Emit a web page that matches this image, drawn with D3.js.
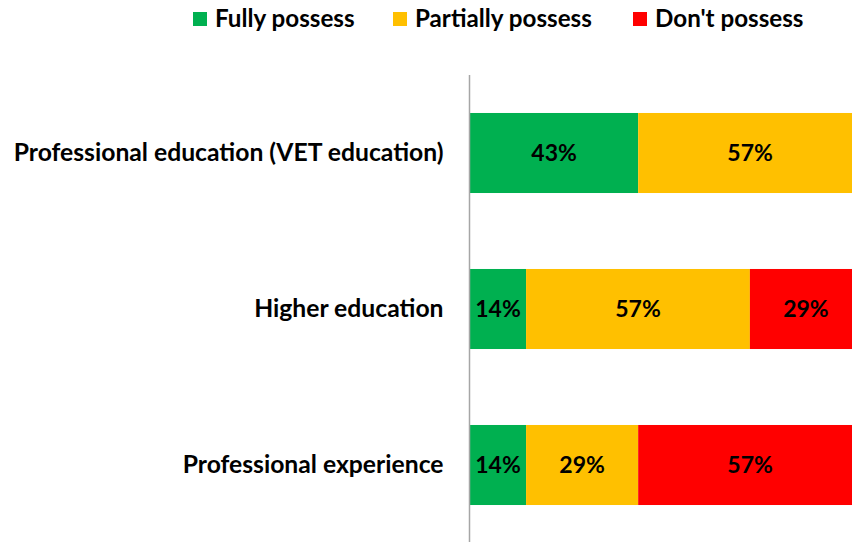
<!DOCTYPE html>
<html>
<head>
<meta charset="utf-8">
<script src="https://cdn.jsdelivr.net/npm/d3@7"></script>
<style>
  body { margin: 0; background: #fff; }
  text { font-family: Lato, "Open Sans", sans-serif; font-weight: bold; fill: #000; }
</style>
</head>
<body>
<div id="chart"></div>
<script>
// categories, top to bottom
var categories = ["Professional education (VET education)", "Higher education", "Professional experience"];

// series (share of respondents, %), labels are rounded
var seriesNames = ["Fully possess", "Partially possess", "Don't possess"];
var fully = [42.9, 14.3, 14.3];
var partially = [57.1, 57.1, 28.6];
var dont = [0, 28.6, 57.1];

var colors = ["#00b050", "#ffc000", "#ff0000"];

var width = 852, height = 542;

var svg = d3.select("#chart")
  .append("svg")
    .attr("width", width)
    .attr("height", height);

var rows = categories.map(function(c, i) {
  return {cat: c, "Fully possess": fully[i], "Partially possess": partially[i], "Don't possess": dont[i]};
});
var stacked = d3.stack().keys(seriesNames)(rows);

// bars run past the right edge a little, like the original
var x = d3.scaleLinear().domain([0, 100]).range([470, 862]);
var y = d3.scaleBand()
  .domain(categories)
  .range([75, 543])
  .paddingInner(0.487)
  .paddingOuter(0.2435);

var layer = svg.selectAll("g.layer")
  .data(stacked)
  .enter().append("g")
    .attr("class", "layer")
    .attr("fill", function(d, i) { return colors[i]; });

layer.selectAll("rect")
  .data(function(d) { return d; })
  .enter().append("rect")
    .attr("x", function(d) { return x(d[0]); })
    .attr("y", function(d) { return y(d.data.cat); })
    .attr("width", function(d) { return x(d[1]) - x(d[0]); })
    .attr("height", y.bandwidth());

layer.selectAll("text")
  .data(function(d) { return d.filter(function(p) { return p[1] - p[0] > 0; }); })
  .enter().append("text")
    .attr("x", function(d) { return (x(d[0]) + x(d[1])) / 2; })
    .attr("y", function(d) { return y(d.data.cat) + y.bandwidth() / 2; })
    .attr("dy", "0.35em")
    .attr("text-anchor", "middle")
    .style("font-size", "23px")
    .text(function(d) { return Math.round(d[1] - d[0]) + "%"; });

// y axis: just the line and the labels
var yAxis = svg.append("g")
  .attr("transform", "translate(469.5,0)")
  .call(d3.axisLeft(y).tickSize(0).tickPadding(26));
yAxis.select(".domain").attr("stroke", "#a6a6a6").attr("stroke-width", 1.5).attr("d", "M0,75V542");
yAxis.selectAll("text")
  .style("font-size", "24.7px")
  .style("font-family", "Lato, 'Open Sans', sans-serif");

// legend
var legendX = [193, 393, 633];
var legend = svg.selectAll("g.legend")
  .data(seriesNames)
  .enter().append("g")
    .attr("class", "legend")
    .attr("transform", function(d, i) { return "translate(" + legendX[i] + ",0)"; });
legend.append("rect")
  .attr("x", 0).attr("y", 12)
  .attr("width", 14).attr("height", 14)
  .attr("fill", function(d, i) { return colors[i]; });
legend.append("text")
  .attr("x", 22).attr("y", 19)
  .attr("dy", "0.35em")
  .style("font-size", "24.2px")
  .text(function(d) { return d; });
</script>
</body>
</html>
